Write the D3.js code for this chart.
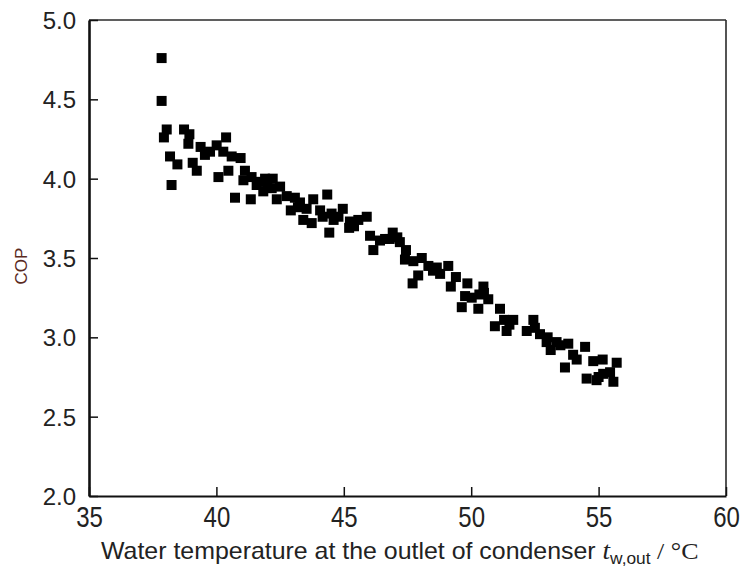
<!DOCTYPE html>
<html>
<head>
<meta charset="utf-8">
<script src="https://cdn.jsdelivr.net/npm/d3@7"></script>
<style>
  body { margin: 0; background: #fff; }
  svg { display: block; }
</style>
</head>
<body>
<svg id="chart" width="749" height="569"></svg>
<script>
// outlet water temperature (°C) and COP
const tOut = [
  37.85, 37.85, 38.05, 37.94, 38.73, 38.94, 38.9, 38.18, 38.47, 38.24,
  39.07, 39.23, 39.38, 39.55, 39.75, 40.01, 40.38, 40.27, 40.6, 40.95,
  40.08, 40.47, 40.73, 41.35, 41.12, 41.06, 41.38, 41.58, 41.91, 42.21,
  41.84, 42.17, 42.5, 42.37, 42.76, 43.08, 42.92, 43.28, 43.8, 43.54,
  43.41, 43.74, 44.35, 44.07, 44.17, 44.43, 44.52, 44.96, 44.79, 45.24,
  45.21, 45.57, 45.9, 46.03, 46.16, 46.42, 46.92, 46.62, 47.2, 47.44,
  47.4, 47.73, 48.06, 47.92, 47.7, 48.32, 48.65, 48.78, 49.1, 49.4,
  49.2, 49.85, 49.76, 49.63, 50.02, 50.48, 50.32, 50.67, 50.28, 51.13,
  50.93, 51.29, 51.65, 51.39, 52.44, 52.18, 52.7, 52.96, 53.35, 53.81,
  53.12, 54.47, 54.14, 53.68, 54.79, 55.16, 55.71, 54.53, 54.92, 55.18,
  55.58, 55.45,
  41.7, 42.0, 43.2, 44.6, 45.4, 46.8, 47.1, 48.5, 50.5, 51.5,
  52.5, 53.0, 53.5, 54.0, 55.0
]
const cop = [
  4.76, 4.49, 4.31, 4.26, 4.31, 4.28, 4.22, 4.14, 4.09, 3.96,
  4.10, 4.05, 4.20, 4.15, 4.17, 4.21, 4.26, 4.17, 4.14, 4.13,
  4.01, 4.05, 3.88, 3.87, 4.05, 3.99, 4.01, 3.96, 4.00, 4.00,
  3.92, 3.94, 3.95, 3.87, 3.89, 3.88, 3.80, 3.85, 3.87, 3.81,
  3.74, 3.72, 3.90, 3.80, 3.76, 3.66, 3.78, 3.81, 3.76, 3.73,
  3.69, 3.74, 3.76, 3.64, 3.55, 3.61, 3.66, 3.62, 3.60, 3.55,
  3.49, 3.48, 3.50, 3.39, 3.34, 3.45, 3.44, 3.40, 3.45, 3.38,
  3.32, 3.34, 3.26, 3.19, 3.25, 3.32, 3.27, 3.24, 3.18, 3.18,
  3.07, 3.11, 3.11, 3.04, 3.11, 3.04, 3.02, 2.97, 2.97, 2.96,
  2.92, 2.94, 2.86, 2.81, 2.85, 2.86, 2.84, 2.74, 2.73, 2.77,
  2.72, 2.78,
  3.98, 3.95, 3.82, 3.74, 3.70, 3.62, 3.63, 3.42, 3.28, 3.08,
  3.06, 3.00, 2.95, 2.89, 2.75
]
const xTicks = [35, 40, 45, 50, 55, 60]
const yTicks = [2.0, 2.5, 3.0, 3.5, 4.0, 4.5, 5.0]

const points = tOut.map((t, i) => ({ t: t, cop: cop[i] }))

const svg = d3.select('#chart')
const m = { left: 89, right: 726, top: 20, bottom: 496 }

const x = d3.scaleLinear().domain([35, 60]).range([m.left, m.right])
const y = d3.scaleLinear().domain([2, 5]).range([m.bottom, m.top])

// frame (top and right)
svg.append('line')
  .attr('x1', m.left).attr('x2', m.right).attr('y1', m.top).attr('y2', m.top)
  .attr('stroke', '#2a2a2a').attr('stroke-width', 1.6)
svg.append('line')
  .attr('x1', m.right).attr('x2', m.right).attr('y1', m.top).attr('y2', m.bottom)
  .attr('stroke', '#2a2a2a').attr('stroke-width', 1.6)

// bottom axis, ticks pointing inward
const xAxis = svg.append('g')
  .attr('transform', `translate(0,${m.bottom})`)
  .call(d3.axisBottom(x).tickValues(xTicks).tickSizeInner(-9).tickSizeOuter(0).tickFormat(d3.format('d')))
xAxis.select('.domain').attr('stroke', '#111').attr('stroke-width', 2)
xAxis.selectAll('.tick line').attr('stroke', '#111').attr('stroke-width', 1.5)
xAxis.selectAll('.tick text')
  .attr('y', 0)
  .attr('dy', 0)
  .attr('transform', 'translate(0,31) scale(1,1.2)')
  .attr('font-family', 'Liberation Sans, Arial, sans-serif')
  .attr('font-size', 24)
  .attr('fill', '#222')

// left axis
const yAxis = svg.append('g')
  .attr('transform', `translate(${m.left},0)`)
  .call(d3.axisLeft(y).tickValues(yTicks).tickSizeInner(-9).tickSizeOuter(0).tickFormat(d3.format('.1f')))
yAxis.select('.domain').attr('stroke', '#111').attr('stroke-width', 2.6)
yAxis.selectAll('.tick line').attr('stroke', '#111').attr('stroke-width', 1.5)
yAxis.selectAll('.tick text')
  .attr('x', -13)
  .attr('dy', '0.36em')
  .attr('font-family', 'Liberation Sans, Arial, sans-serif')
  .attr('font-size', 24)
  .attr('fill', '#222')

// data squares
const s = 10
svg.append('g').selectAll('rect').data(points)
  .enter()
  .append('rect')
  .attr('x', d => x(d.t) - s / 2)
  .attr('y', d => y(d.cop) - s / 2)
  .attr('width', s)
  .attr('height', s)
  .attr('fill', '#000')

// axis titles
const xt = svg.append('text')
  .attr('transform', 'translate(101,559) scale(1.083,1)')
  .attr('font-family', 'Liberation Sans, Arial, sans-serif')
  .attr('font-size', 23)
  .attr('fill', '#222')
xt.append('tspan').text('Water temperature at the outlet of condenser ')
xt.append('tspan').text('t')
  .attr('font-family', 'Liberation Serif, Times New Roman, serif')
  .attr('font-style', 'italic')
  .attr('font-size', 25)
xt.append('tspan').text('w,out')
  .attr('font-size', 16)
  .attr('dy', 5)
xt.append('tspan').text(' / °C')
  .attr('font-family', 'Liberation Serif, Times New Roman, serif')
  .attr('font-size', 24)
  .attr('dy', -5)

svg.append('text')
  .attr('transform', 'translate(27,266) rotate(-90)')
  .attr('text-anchor', 'middle')
  .attr('font-family', 'Liberation Sans, Arial, sans-serif')
  .attr('font-size', 17)
  .attr('fill', '#5a2a1e')
  .text('COP')
</script>
</body>
</html>
